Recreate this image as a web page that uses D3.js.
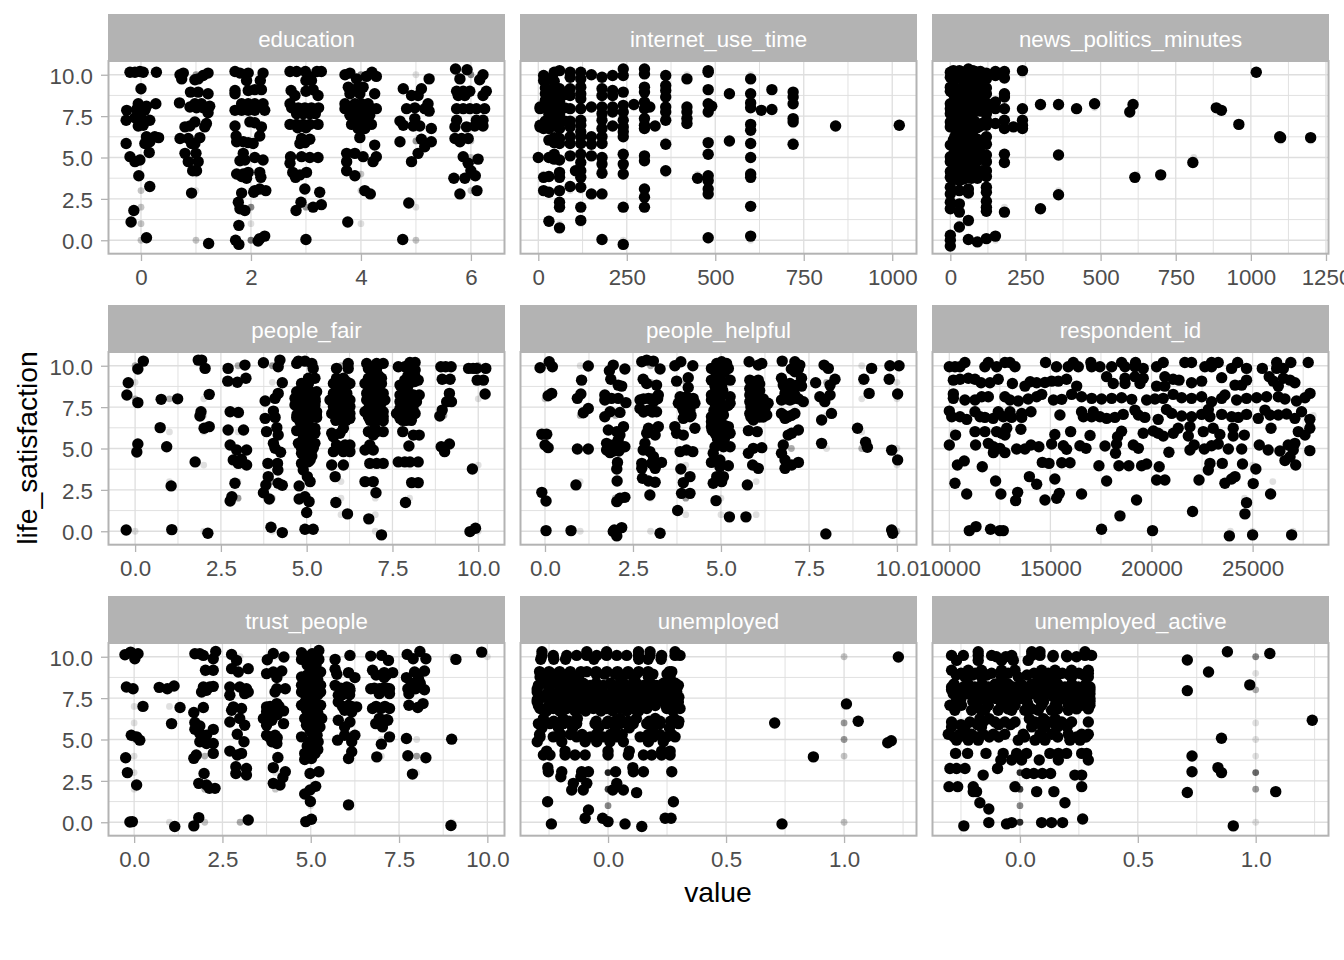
<!DOCTYPE html>
<html><head><meta charset="utf-8">
<script src="https://cdn.jsdelivr.net/npm/d3@7"></script>
<style>html,body{margin:0;padding:0;background:#fff}svg{display:block}text{font-family:"Liberation Sans",Arial,sans-serif}</style>
</head><body><div id="chart"></div>
<script>
// ---- data: [value, life_satisfaction] ----
const facetNames=["education","internet_use_time","news_politics_minutes","people_fair","people_helpful","respondent_id","trust_people","unemployed","unemployed_active"];
const yTicks=[0,2.5,5,7.5,10];
const yMinor=[1.25,3.75,6.25,8.75];

const educationJitter=[[-.2,10.15],[-.11,10.15],[-.02,10.2],[.04,10.15],[.28,10.15],[0,9.15],[-.05,8.25],[.1,8.1],[.27,8.25],[-.26,7.85],[-.08,7.9],[.07,7.85],[-.27,7.25],[-.11,7.4],[0,7.4],[.16,7.25],[-.05,6.9],[.04,6.95],[.1,6.25],[.25,6.25],[.32,6.2],[-.27,5.85],[.07,5.85],[.16,5.95],[.15,5.3],[-.2,5.05],[-.11,4.75],[-.02,4.85],[-.04,3.9],[.16,3.25],[-.13,1.8],[-.18,1.1],[.1,.15],
[.71,10],[.77,10.1],[.74,9.75],[1.22,10.1],[1.13,9.95],[1.04,9.75],[.98,9.7],[.9,8.95],[1.04,8.95],[1.22,8.85],[.7,8.3],[.98,8.25],[1.1,8.25],[.89,8.05],[1.01,8],[1.13,8],[1.25,8.1],[1.22,7.7],[.98,7.15],[.8,6.85],[.89,6.9],[1.16,6.85],[1.19,7.05],[.71,6.15],[.86,6.15],[1.07,6.2],[.92,5.85],[.98,5.85],[.8,5.25],[1,5.25],[.86,4.75],[1.04,4.75],[.94,4.2],[1.01,4.2],[.92,2.85],[1.23,-.2],
[1.71,10.2],[1.8,10.1],[1.95,10.1],[2.22,10.1],[1.92,9.65],[2.17,9.65],[1.71,9.05],[1.95,9.05],[2.07,9.1],[2.19,9.1],[1.71,8.85],[1.83,8.25],[1.95,8.25],[2.07,8.25],[2.22,8.25],[1.71,7.85],[1.83,7.85],[1.95,7.85],[2.07,7.85],[2.25,7.85],[1.98,7.15],[2.07,7.1],[1.71,6.9],[2.19,6.85],[2.16,6.3],[1.73,6.3],[1.74,5.95],[1.86,5.95],[1.95,5.9],[2.04,5.85],[1.86,5.25],[1.8,4.8],[1.89,4.85],[2.07,5],[2.22,4.85],[1.74,4],[1.86,4],[1.95,4.1],[2.16,4.1],[1.83,3.85],[1.92,3.75],[2.18,3.8],[2.07,3],[2.16,3.1],[2.27,3],[1.83,2.85],[2.05,2.9],[1.77,2.3],[1.8,1.9],[1.89,1.8],[1.78,.9],[1.72,0],[1.78,-.25],[2.13,-.05],[2.25,.25],[2.16,.1],
[2.71,10.2],[2.83,10.2],[2.99,10.2],[3.2,10.2],[3.28,10.2],[3.08,9.85],[3,9.65],[3.1,9.65],[3.13,9.1],[3,9],[2.73,9.05],[3.22,8.75],[2.8,8.75],[2.71,8.25],[2.74,8],[2.86,8],[2.98,8],[3.1,8],[3.23,8],[2.83,7.65],[2.95,7.65],[3.07,7.65],[3.17,7.65],[2.71,7],[2.83,7],[2.95,7],[3.07,7],[3.22,7],[2.85,6.8],[3,6.8],[2.92,6.15],[3.07,6.1],[2.89,5.85],[2.98,5.9],[2.72,5.05],[2.92,5.05],[3.07,5],[3.22,5],[2.71,4.65],[2.76,4.1],[3.01,4.1],[2.89,3.95],[2.81,3.8],[2.98,3.1],[3.25,2.9],[2.91,2.3],[3.28,2.15],[3.13,2],[2.82,1.8],[3,.05],
[3.71,10],[3.8,10.1],[4.2,10.15],[4.28,9.9],[3.92,9.75],[4.1,9.9],[3.77,9.25],[4.04,9.25],[3.92,9.15],[3.8,8.85],[3.98,8.85],[4.25,8.85],[3.71,8.25],[3.89,8.25],[4.01,8.25],[4.13,8.25],[3.71,7.95],[3.83,7.95],[3.95,7.95],[4.07,7.95],[4.19,7.95],[4.28,7.95],[3.8,7.55],[3.92,7.55],[4.04,7.55],[4.16,7.55],[3.83,7],[3.95,7],[4.07,7],[4.19,7],[3.95,6.75],[4.07,6.75],[3.98,6.2],[4.25,5.75],[3.74,5.25],[3.89,5.25],[4.04,5.05],[4.28,5.05],[3.74,4.75],[4.22,4.75],[3.74,4.2],[3.89,3.9],[4.07,3],[4.17,2.8],[3.76,1.1],
[5.24,9.75],[4.77,9.15],[5.1,9.15],[4.92,8.75],[5.04,8.75],[5.22,8.25],[5.16,7.95],[4.83,7.95],[4.98,8],[5.24,7.8],[4.98,7.35],[4.71,7.2],[4.77,6.95],[4.95,6.9],[5.07,6.9],[5.28,6.75],[4.71,5.95],[5.28,5.95],[5.1,6.1],[5.16,5.65],[5.04,5.25],[4.92,4.75],[4.87,2.25],[4.76,.05],
[5.72,10.35],[5.93,10.3],[5.8,9.75],[6.22,10],[6.16,9.7],[5.74,9],[5.86,9],[5.98,9],[6.28,9],[5.77,8.75],[5.89,8.75],[6.22,8.75],[5.74,7.95],[5.86,7.95],[5.98,7.95],[6.1,7.95],[6.25,7.95],[5.74,7.25],[6.22,7.25],[6.1,7.25],[5.71,6.85],[5.92,6.85],[6.07,6.9],[6.22,6.9],[5.71,6.15],[5.83,6.15],[5.95,6.15],[5.8,5.95],[5.86,5.05],[5.95,4.65],[6.13,4.9],[6,4.2],[6.08,3.9],[5.69,3.75],[5.89,3.75],[6.11,3],[5.8,2.8]];
const educationOriginal=[[0,9,1],[0,5,2],[0,4,1],[0,3,2],[0,2,2],[0,1,2],[0,0,2],[1,10,4],[1,4,1],[1,3,1],[1,0,2],[2,3,1],[2,2,5],[2,1,1],[2,0,6],[3,2,4],[4,10,5],[4,4,2],[4,3,2],[4,1,1],[5,10,1],[5,6,4],[5,2,1],[5,0,2],[6,10,5],[6,6,2],[6,5,2],[6,3,2]];

const internetColumns=[[0,[5]],[5,[8.05,7.95,6.95,6.85]],[15,[9.95,9.65,8,6.75,6.95,3.8,3]],[20,[9.2,8.85,8.45,7.2]],[30,[9.75,9.05,8.85,8.5,8,7.6,7.1,6.75,6.05,5,3.85,2.9,1.15]],[45,[10.15,9.6,9.25,8.8,8.3,7.95,7.3,6.9,6.2,5.9,5.2,4.9]],[60,[10.25,9.15,8.85,8.4,8,7.6,7.15,6.75,6.15,5.85,4.85,4.1,3.8,3,2.3,2,.75]],[75,[8.8,8,7.2]],[90,[10.15,9.85,9.15,8.75,7.95,7.2,6.85,6.25,5.85,5.1,3.25]],[105,[4.2]],[120,[10.15,9.75,9.25,8.85,8.55,7.95,7.25,6.95,6.55,6.25,5.85,5.2,4.7,4.2,3.8,3.2,2,1.2]],[150,[10,8.05,6.25,5.8,5.1,2.8]],[180,[9.85,9.15,8.75,8.05,7.65,7.25,6.75,6.25,5.85,5,4.6,4.05,2.8,.05]],[210,[9.95,9.05,8.75,8.05,7.75,6.9]],[240,[10.35,9.95,8.95,8.15,7.75,7.25,6.85,6.55,6.25,5.2,4.6,4,2,-.25]],[270,[8.2]],[300,[10.35,10.05,9.25,8.95,8.35,7.95,7.35,6.95,6.75,5.1,4.8,3.1,2.6,2]],[315,[8.05]],[330,[6.9]],[360,[9.95,9.35,9.05,8.65,8.05,7.75,7.25,5.8,4.2]],[420,[9.75,8.05,7.75,7.35,7.05]],[450,[3.75]],[480,[10.25,10.15,9.1,8.25,7.75,5.9,5.2,3.9,3.6,3.1,2.8,.15]],[490,[8.1]],[540,[8.85,6]],[600,[9.75,8.85,8.3,8,7,6.65,5.85,5,4,3.8,2.05,.25]],[630,[7.85]],[660,[9.1,7.9]],[720,[8.95,8.65,8.25,7.35,7.15,5.8]],[840,[6.9]],[1020,[6.95]]];
const internetOriginal=[[420,10,1],[600,10,1],[480,10,1],[720,7,1],[720,6,1],[360,6,1],[360,4,1],[450,4,1],[15,4,2],[30,4,2],[90,3,1],[120,3,1],[30,1,1],[60,1,1],[120,1,1],[240,0,1],[480,0,1],[600,0,1],[270,8,1]];

const newsColumns=[[0,[10.15,9.85,9.25,9,8.25,7.95,7.65,7.15,6.85,5.75,5.05,4.75,4.15,3.8,3.2,2.8,2.3,1.9,.3,0,-.35]],[10,[10.25,9.95,9.65,9.15,8.85,8.05,7.65,7.25,6.85,6.05,5.65,5.15,4.85,4.25,3.8]],[15,[10.2,9.75,9.2,8.6,8.25,7.75,7.35,6.95,6.25,5.95,5.25,4.75,4.05,3.7]],[20,[10.1,9.95,9,8.7,8.15,8,7.25,7,6.5,6,5,4.85,4.2,3.75]],[30,[10.25,9.85,9.15,8.85,8.35,8,7.65,7.15,6.85,6.25,5.85,5.1,4.7,4,3.6,3,2.2,1.7,.8]],[40,[10.15,9.7,9.1,8.8,8.25,7.85,7.5,7.05,6.75,6.3,5.65,5.2,4.85,4.1,3.75]],[45,[10.1,9.9,9.2,8.7,8,7.6,7.3,6.9,6.4,6,5.4,5,4.6,4,3.7]],[60,[10.35,10,9.7,9.2,8.85,8.2,8,7.65,7.2,6.9,6.35,5.85,5.15,4.85,4.15,3.8,3.1,2.85,1.2,.05]],[70,[10.1,9.8,9.05,8.7,8.1,7.75,7.15,6.6,6.1,5.5,5,4.6,4,3.75]],[75,[10.25,9.9,9.3,8.85,8.3,8,7.3,6.95,6.3,5.75,5.3,4.9,4.2,3.8]],[80,[10.2,9.7,9.1,8.6,8.05,7.8,7.2,5.5,5,4.55,4.05]],[90,[10.15,9.75,9.2,8.85,8.3,7.95,7,6.8,6.1,5.85,5.2,4.8,4.15,3.75,-.1]],[100,[10.2,9.9,9.1,8.7,8.15,7.8,6.9,5.3,4.9,4.05]],[105,[10.1,9.25,8.55,8,7.05,5.9,5.05,4.2]],[120,[10.1,9.75,9.2,8.85,8.3,8,7.65,7.25,6.95,6.25,5.8,5.15,4.75,4.2,3.85,3.2,2.9,2.35,2,1.75,.1]],[150,[10.2,9.95,8.35,7.95,7.05,.25]],[180,[10.2,9.8,8.85,8.65,7.95,7.25,6.75,5.2,4.7,1.7]],[210,[6.85]],[240,[10.25,7.95,7.25,6.95,6.75]],[300,[8.2,1.9]],[360,[8.2,5.15,2.75]],[420,[7.95]],[480,[8.25]],[597,[7.75]],[608,[8.2]],[614,[3.8]],[700,[3.95]],[807,[4.7]],[885,[8]],[902,[7.85]],[960,[7.0]],[1018,[10.15]],[1096,[6.25]],[1099,[6.2]],[1199,[6.2]]];
const newsOriginal=[[300,8,1],[360,8,1],[480,8,1],[600,8,1],[1100,6,1],[1200,6,1],[810,5,1],[620,4,1],[360,3,1],[180,2,1],[210,7,1],[180,9,1],[240,10,1],[150,10,1],[60,1,1],[30,1,1],[150,0,1]];

const fairJitter=[[.24,10.28],[.08,9.8],[-.2,8.97],[-.24,8.23],[.08,7.77],[.08,5.27],[.05,4.79],[-.26,.08],[.76,7.97],[1.24,8],[.73,6.26],[.92,5.11],[1.05,2.74],[1.07,.1],[1.84,10.34],[1.94,10.34],[2.04,9.84],[2.16,8.27],[1.92,7.22],[1.89,6.96],[2.01,6.22],[2.16,6.32],[1.75,4.19],[2.12,-.12],[2.71,9.84],[3.2,10.04],[3.23,9.24],[2.7,9.07],[2.98,9],[2.77,7.22],[3.01,7.18],[2.71,6.12],[3.16,6.12],[2.77,5.21],[2.96,4.91],[3.25,4.91],[2.86,4.31],[3.01,4.1],[3.25,4],[3.1,4.35],[2.91,2.9],[2.82,2.09],[2.77,1.83],[3.74,10.18],[4.22,10.34],[4.17,9.94],[4.29,8.97],[4.17,8.33],[4.08,8.03],[3.79,7.87],[4.03,7.26],[3.79,6.82],[4.08,6.88],[3.83,6.02],[4.13,6.26],[4.17,5.81],[4.03,5.31],[4.08,5.01],[4.24,4.77],[3.87,4.1],[4.15,4.1],[4.16,3.7],[3.88,3.3],[3.81,2.8],[4.17,2.9],[4.29,2.78],[3.74,2.33],[3.91,1.95],[3.96,.24],[4.29,-.08]];
const fairRows=[[10.28,[4.76,4.95]],[10.14,[4.71,5.15]],[9.84,[5.19]],[9.24,[5.24,5.05]],[8.93,[4.85,5.05]],[8.43,[4.71,4.9,5.1,5.29]],[8.03,[4.66,4.85,5.05,5.24]],[7.63,[4.66,4.85,5.05,5.24]],[7.22,[4.9,5.1,5.29]],[6.88,[4.71,4.9,5.1,5.29]],[6.62,[5,4.81]],[6.08,[4.71,5.2,4.95]],[6.22,[5.24]],[5.92,[5.24]],[5.31,[4.76,4.95,5.24]],[5.01,[4.85,5.05,5.19]],[4.71,[4.85]],[4.31,[5.1,4.95]],[4.1,[4.85]],[3.7,[4.9]],[3.3,[5.02]],[3,[5.1]],[2.74,[4.78]],[2.09,[4.95]],[1.95,[4.78]],[1.79,[5.07]],[1.13,[5]],[.12,[4.95,5.19]],
[10.14,[6.21]],[9.84,[5.87,6.21]],[9.24,[5.87,6.07]],[8.93,[5.78,6.26,5.97]],[8.33,[5.78,5.97,6.17]],[7.93,[5.68,5.87,6.07,6.26]],[7.53,[5.78,5.97,6.26]],[7.12,[5.73,5.92,6.12,6.26]],[6.82,[6.26,5.97]],[6.22,[6.07]],[5.92,[5.73,5.97]],[5.71,[5.78]],[5.21,[5.87,6.12,6.26]],[4.81,[5.78,6.07,6.26]],[4,[5.73,6.07]],[3.3,[5.83]],[1.74,[5.85]],[1.05,[6.19]],
[10.14,[6.75,7.04,7.23]],[9.84,[6.8,7.04]],[9.24,[6.8,6.99,7.18]],[8.93,[6.7,6.89,7.18]],[8.33,[6.75,6.99,7.23]],[7.93,[6.75,6.94,7.14,7.28]],[7.53,[6.84,7.09]],[7.22,[6.7,6.89,7.09,7.23]],[6.92,[6.8,7.04,7.23]],[6.68,[7.23]],[6.22,[6.99]],[6.02,[6.8,7.04,7.23]],[5.81,[6.94]],[5.21,[6.84]],[4.91,[6.7,6.94]],[4.1,[6.84,7.04,7.23]],[3,[6.7,6.94]],[2.33,[7.02]],[.75,[6.81]],[-.22,[7.18]],
[10.2,[8.01,8.16]],[9.94,[7.67,7.86,8.06]],[9.74,[8.16]],[9.13,[7.86,8.06,8.25]],[8.83,[7.72,7.96]],[8.23,[7.72,7.91,8.11,8.28]],[7.83,[7.72,7.96,8.2]],[7.42,[7.72,8.01]],[7.12,[7.62,7.86,8.16]],[6.82,[7.72,7.96]],[6.02,[7.8]],[5.81,[8.11,8.28]],[5.15,[7.98]],[4.19,[7.67,7.86,8.01,8.25]],[2.94,[8.06,8.25]],[1.74,[7.88]],
[9.94,[8.91,9.05,9.21]],[9.18,[8.95,9.18]],[7.83,[9.08,9.22]],[8.33,[9.16]],[7.32,[8.95]],[6.96,[8.88]],[5.11,[8.92]],[5.27,[9.16]],[4.81,[9.02]],[9.84,[9.72,9.95,9.85,10.22]],[9.13,[9.97,10.15]],[8.29,[10.2]],[3.76,[9.83]],[-.02,[9.76]],[.18,[9.92]],
[8.3,[4.75,4.95,5.15,5.95,6.1,6.85,7.1,7.8,8]],[7.85,[4.7,4.95,5.15,5.25,5.85,6.05,6.2,6.85,7.05,7.2,7.8,8.05]],[7.4,[4.85,5.05,5.2,5.85,6.1,6.8,7,7.15,7.8,7.95,8.1]],[7.05,[4.72,4.95,5.15,5.28,6.05,6.95,7.15,7.75,7.95,8.1]],[6.7,[4.85,5.05,5.85,6.05,6.15,6.85,7.05,7.8,7.9,8.05]],[6.45,[4.85,5.05]],[5.6,[4.9,5.1]],[5,[4.95,5.9,6.2,6.85]],[4.55,[5,5.15]],[4.2,[4.92,5.05]],[8.8,[5.85,6.1,6.8,7.05,7.95]],[9.05,[5.95,6.15,7.1,8.15]],[9.4,[6.9,7.1,7.95,8.15]],[10,[7.95,8.1]]];
const fairOriginal=[[0,10,3],[0,9,1],[0,8,3],[0,5,1],[0,0,1],[1,8,3],[1,6,1],[1,3,1],[1,0,1],[2,8,1],[2,7,1],[2,6,1],[2,4,1],[2,0,1],[3,10,3],[3,7,1],[3,6,1],[3,5,1],[3,3,1],[3,2,4],[4,10,4],[4,9,1],[4,3,4],[4,2,2],[4,0,1],[5,3,1],[6,10,3],[6,3,1],[6,2,1],[6,1,1],[7,5,1],[7,3,1],[7,2,1],[7,1,1],[7,0,1],[8,3,2],[8,2,1],[8,4,1],[9,10,3],[9,7,3],[10,10,4],[10,8,1],[10,4,1],[10,0,1]];

const helpfulJitter=[[-.14,9.88],[.12,10.24],[.21,9.94],[.19,8.33],[.09,8.19],[-.09,5.86],[.05,5.86],[0,5.21],[.09,5.05],[-.09,2.35],[.03,1.83],[.03,.04],[1.23,9.98],[1.04,9.13],[1.02,8.29],[.92,8.03],[1.23,7.42],[1.09,7.16],[.92,4.97],[1.23,4.97],[.88,2.8],[.74,.04],
[1.94,10.04],[1.83,9.7],[2.27,9.8],[1.87,9.18],[2.18,8.77],[2.08,8.83],[1.7,8.23],[1.7,7.93],[1.89,8.03],[2.08,8.03],[2.3,7.77],[1.85,7.22],[2.13,7.18],[1.7,6.92],[1.8,6.12],[2.23,6.32],[2.04,6.02],[2.13,5.81],[2.08,5.51],[1.75,5.31],[1.75,4.91],[1.94,5.21],[1.94,4.91],[2.13,5.11],[2.27,5.11],[1.85,4.75],[2.06,4.16],[2.04,3.76],[2.05,3.04],[2.27,2.05],[2.13,1.99],[2.04,1.79],[1.97,.08],[2.18,.22],[2.04,-.28],[1.94,-.02],
[2.75,10.24],[2.89,10.34],[3.08,10.28],[3.27,9.8],[2.79,9.18],[2.89,8.93],[3.17,8.83],[2.7,7.93],[2.94,8.03],[3.22,8.23],[3.08,7.83],[2.7,7.42],[2.94,7.32],[3.17,7.22],[2.94,6.22],[3.22,6.32],[2.89,5.92],[3.13,5.81],[2.84,5.31],[2.79,4.91],[2.98,4.81],[3.08,4.51],[2.75,4.1],[2.75,3.8],[3.03,4.1],[3.31,4.16],[3.13,3.8],[2.77,3.2],[2.94,3.04],[3.13,2.96],[2.98,2.19],[3.27,-.12],
[3.86,10.24],[3.69,10],[4.2,10],[4.07,9.28],[3.74,9.07],[4.07,8.69],[3.84,8.13],[4.02,8.13],[4.21,8.03],[3.79,7.73],[4.02,7.73],[4.26,7.73],[3.93,7.32],[4.12,7.32],[3.93,6.82],[4.12,6.92],[3.69,6.32],[4.26,6.22],[3.74,5.92],[3.93,5.81],[3.84,4.81],[4.02,4.91],[4.2,4.81],[3.86,3.76],[4.12,3.3],[3.93,2.94],[3.88,2.29],[4.12,2.29],[3.77,1.25],
[5.02,10.24],[4.88,10.14],[5.16,10.14],[4.73,9.84],[4.97,9.84],[5.21,9.84],[4.73,9.13],[4.97,9.13],[5.26,9.13],[4.83,8.77],[5.02,8.77],[4.73,8.23],[4.97,8.23],[5.26,8.13],[4.73,7.93],[4.97,7.93],[5.26,7.73],[4.88,7.53],[5.07,7.42],[4.88,7.12],[5.07,7.02],[4.73,6.92],[4.73,6.62],[4.97,6.72],[4.73,6.32],[4.97,6.32],[5.21,6.32],[4.83,5.92],[5.07,5.71],[5.26,5.92],[4.83,5.11],[5.07,5.11],[5.26,5.11],[4.78,4.71],[4.73,4.16],[4.97,4.31],[5.21,3.96],[4.97,3.9],[5.07,3.3],[4.88,3.3],[4.78,2.9],[5.02,3],[4.86,1.85],[5.24,.87],[5.71,.87],
[5.8,10.24],[6.16,10.14],[6.06,10.04],[5.82,9.13],[6.06,9.13],[5.82,8.63],[6.06,8.73],[5.82,8.23],[6.06,8.23],[5.82,7.83],[6.06,7.83],[6.34,7.73],[6.25,7.42],[5.82,7.12],[6.06,7.12],[6.3,7.02],[5.92,6.72],[5.78,6.08],[6.03,6.02],[6.16,5.05],[5.92,5.01],[5.78,4.71],[5.9,4],[6.06,3.8],[5.75,2.8],
[6.74,10.28],[7.1,10.24],[7.24,10.04],[7.1,9.64],[7.29,9.24],[6.72,9.24],[7.15,8.83],[6.96,8.93],[6.77,8.83],[7.29,8.77],[6.82,8.33],[7.1,8.23],[6.72,7.93],[6.96,7.93],[7.34,7.83],[6.72,7.12],[6.91,6.92],[7.1,7.12],[6.82,6.82],[7.2,6.12],[7.01,5.92],[6.91,5.81],[6.77,5.21],[6.72,4.71],[6.82,4.31],[7.01,4],[7.2,4.16],[6.82,3.8],
[7.93,10.04],[8.05,9.84],[7.69,8.97],[8.24,9.18],[8.1,8.83],[7.81,8.13],[8.1,8.23],[7.95,7.83],[8.14,7.12],[7.86,6.72],[7.86,5.31],[7.98,-.16],[9.28,9.84],[9.06,9.18],[9.21,8.33],[8.88,6.22],[9.11,5.38],[9.16,5.07],[9.8,10],[10.06,10],[9.78,9.18],[10.02,8.29],[9.85,4.9],[10.02,4.31],[9.85,.08],[9.88,-.12]];
const helpfulCrowded=[[4.85,9.6],[5.1,9.6],[4.85,8.5],[5.05,8.5],[4.85,7.6],[5.05,7.6],[5.2,7.6],[4.8,7.3],[5,7.3],[4.85,6.4],[5.1,6.4],[4.75,6.1],[5.05,6.1],[5.15,6.1],[4.9,5.6],[5.1,5.6],[5.9,8.9],[6.1,8.9],[5.9,8.5],[6.1,8.5],[5.95,8],[6.2,8],[5.85,7.5],[6.05,7.5],[6.15,7.5],[5.85,6.9],[6.1,6.9],[6.2,6.9],[7,9.8],[7.2,9.8],[6.85,8.5],[7.05,8.5],[6.85,8],[7.05,8],[7.2,8],[6.8,7],[7,7],[3.85,8],[4.1,8],[3.9,7.5],[4.1,7.5],[4,7],[4.15,7],[2.8,8],[3.05,8],[3.2,8],[2.8,7.2],[3.05,7.2],[1.85,5.1],[2.05,5.1],[2.2,5.1],[1.95,4.85],[2.1,4.85]];
const helpfulOriginal=[[0,10,2],[0,8,2],[0,6,2],[1,10,1],[1,7,3],[1,3,1],[1,0,1],[2,7,3],[2,4,1],[2,3,1],[2,2,3],[3,10,3],[3,9,3],[3,2,1],[3,0,1],[4,9,3],[4,5,3],[4,4,1],[4,2,4],[4,1,1],[5,4,3],[5,2,1],[5,1,1],[6,10,2],[6,4,2],[6,3,1],[6,1,1],[7,9,5],[7,5,3],[8,5,1],[8,9,3],[8,7,1],[9,10,1],[9,9,1],[9,8,1],[9,6,1],[9,5,3],[10,9,1],[10,8,1],[10,5,1],[10,4,1],[10,0,2]];

const respondentTop=[[9.94,[10000,10280,10530,11760,12340,13250,15300,15880,16380,17040,17450,18030,18690,19180,20250,22640,22970]],[10.2,[10770,11930,12750,13000,14760,16130,17000,18520,19210,20580,21650,21980,22970,23300,24260,26190,26890,27750]],[9.84,[26190,26520,24700,23960,25480,19590]]];
const respondentPairs=[[10200,9.13],[10530,9.18],[10940,9.24],[11270,9.18],[11570,8.97],[12010,8.97],[12420,9.18],[13120,8.93],[13740,8.77],[14000,9.03],[14320,8.97],[14730,8.99],[15060,9.07],[15390,9.07],[15800,9.18],[16300,8.77],[17780,9.34],[18110,8.93],[18690,9.24],[18690,8.93],[19180,9.34],[19430,8.93],[19590,9.24],[20250,8.77],[20660,9.34],[20660,8.77],[21070,9.18],[21360,9.13],[21980,8.97],[22480,9.07],[23470,9.28],[24130,8.83],[24700,9.13],[24460,8.83],[25820,9.34],[26020,9.07],[26270,8.77],[26520,9.24],[26850,9.13],[27090,8.97],
[10200,8.03],[10200,8.3],[10770,7.93],[11270,7.93],[11600,8.13],[11930,8.13],[12750,8.13],[13000,7.93],[13410,7.87],[13900,7.99],[14320,8.13],[14570,8.27],[15150,7.93],[15560,7.97],[16050,8.27],[16540,8.13],[17040,8.03],[17530,7.99],[18030,8.03],[18520,8.07],[19020,7.97],[19760,7.93],[20170,7.99],[20580,8.03],[21070,8.27],[21490,8.07],[21980,8.03],[22480,8.13],[22970,7.83],[23470,8.03],[23630,8.23],[24210,7.93],[24700,8.03],[25200,8.07],[25690,8.13],[26270,8.13],[26600,7.99],[27170,7.87],[27590,8.07],[27840,8.33],
[10000,7.26],[10120,6.92],[10530,6.92],[10860,6.76],[11270,7.22],[11520,6.92],[11760,6.88],[12170,6.82],[12420,7.22],[12670,6.92],[13000,7.22],[13080,6.88],[13580,7.12],[13580,6.88],[14040,7.22],[15470,7.02],[16540,7.22],[16630,6.92],[17040,6.92],[17120,7.22],[17450,6.92],[17780,6.82],[18190,6.88],[18600,7.06],[19180,7.32],[19350,7.02],[19670,6.88],[20330,6.76],[20740,7.36],[21000,7.12],[21490,6.96],[21980,6.92],[22480,7.06],[22810,7.36],[22890,6.92],[23470,7.06],[23960,6.92],[24290,6.88],[24700,7.06],[25280,6.82],[25610,7.32],[25860,7.02],[26270,7.02],[26680,7.08],[27090,6.82],[27420,7.22],[27830,6.76],
[10310,5.81],[11270,6.02],[11760,6.02],[12340,6.02],[12840,6.22],[12750,5.81],[12590,5.92],[13540,6.16],[15220,5.85],[16000,6.02],[16960,5.79],[18520,6.04],[18320,5.71],[19590,5.92],[20090,6.06],[20330,5.92],[20580,5.75],[21080,5.92],[21320,6.22],[21900,6.32],[21820,5.75],[22560,6.02],[23050,6.22],[23380,5.85],[24040,6.22],[24040,5.75],[24590,5.81],[25910,6.22],[27260,6.02],[27590,5.81],[27830,6.22],
[10000,5.21],[11300,5.21],[11930,5.31],[12180,5.11],[12180,4.75],[12500,5.01],[12750,4.75],[13330,4.97],[13740,4.97],[14040,5.21],[14430,5.11],[15060,5.27],[15640,5.17],[15800,4.95],[16460,5.17],[16760,5.01],[17700,5.15],[18270,5.27],[18220,4.71],[19100,5.21],[19350,5.01],[20860,4.77],[21900,4.91],[22110,5.21],[22610,4.97],[22970,5.17],[23300,5.27],[23800,4.97],[24460,4.97],[25330,5.21],[25770,4.91],[26350,4.85],[26760,5.21],[27090,5.31],[27010,4.91],[27830,4.87],
[10400,4],[10740,4.25],[11630,3.9],[14600,4.16],[14930,4.1],[15560,4.14],[15970,4.14],[17400,3.96],[18390,3.96],[18880,3.96],[19510,3.96],[19760,4.06],[20380,3.9],[22890,4.1],[22810,3.7],[23500,4.1],[24500,4.06],[25160,3.76],[26600,4.27],[27130,4],[26850,4.5],
[10280,2.9],[12290,3.04],[13960,3.3],[14320,2.84],[15220,3.16],[17780,3.04],[20250,3.1],[20660,3.1],[22350,3.1],[23630,2.9],[23960,3.16],[24130,3.3],[25030,2.88],
[10860,2.25],[12550,2.25],[13380,2.35],[13280,1.85],[14730,1.89],[15310,1.99],[15440,2.29],[16540,2.25],[19260,1.89],[25890,2.25],
[24700,1.73],[24620,1.05],[22030,1.19],[18440,.93],[10990,.04],[11320,.28],[12040,.12],[12500,.04],[12670,.04],[17530,.12],[20050,.04],[23850,-.28],[25000,-.22],[26930,-.22]];
const respondentOriginal=[[23900,0,1],[25000,0,1],[27000,0,1],[26000,3,1],[24600,2,1],[25000,4,1],[28000,7,1],[20100,8,1],[15000,4,1],[10200,6,1]];

const trustJitter=[[-.26,10.12],[-.1,10.28],[.11,10.18],[.02,9.88],[-.22,8.17],[-.03,8.07],[.25,7],[-.24,3.9],[-.19,3],[.07,2.25],[-.08,5.26],[.07,5.16],[.16,4.96],[-.12,.02],[-.05,.04],[.71,8.15],[.94,8.07],[1.13,8.23],[1.3,6.93],[1.06,5.96],[1.15,-.26],[1.72,10.18],[1.86,10.18],[1.96,10.08],[2.24,9.88],[2.31,10.32],[2.02,9.18],[2.24,9.18],[1.96,8.17],[2.14,8.17],[2.24,8.21],[1.91,7.87],[2.05,7.97],[1.96,6.93],[1.69,6.63],[1.72,6.03],[1.86,5.82],[1.72,5.62],[2.24,5.61],[1.86,5.36],[2.05,5.26],[1.86,4.86],[2.05,4.76],[2.24,4.76],[1.76,4.06],[1.69,3.86],[2.24,4.16],[1.98,2.95],[1.83,2.35],[2.05,2.25],[2.29,2.05],[2.13,2.05],[1.83,.28],[1.69,-.22],
[2.76,10.14],[2.9,9.78],[2.76,9.28],[2.95,9.08],[3.23,9.28],[2.71,8.17],[2.71,7.67],[2.99,8.17],[3.18,8.07],[3.23,7.87],[3.13,7.77],[2.81,6.97],[3.04,6.87],[2.76,6.77],[2.99,6.27],[2.71,6.06],[3.13,5.86],[2.92,5.32],[3.11,4.86],[2.71,4.3],[3.04,4.16],[2.92,4.06],[2.88,3.35],[3.18,3.25],[2.88,2.95],[3.18,2.85],[3.23,.14],
[3.94,10.2],[4.24,9.98],[3.77,9.82],[3.75,8.98],[3.94,9.08],[4.18,9.14],[4.04,8.74],[4.04,8.07],[4.28,8.07],[3.99,7.87],[3.75,6.97],[4.04,7.17],[4.23,6.73],[3.75,6.67],[3.94,6.77],[3.66,6.27],[3.9,6.16],[3.75,5.86],[4.23,5.96],[3.75,5.26],[3.99,5.26],[3.9,4.86],[4.04,4.76],[4.07,3.91],[3.94,3.3],[4.28,3.05],[4.21,2.7],[3.94,2.35],[4.13,2.25],
[4.74,10.24],[5.04,10.18],[5.23,10.38],[4.74,9.84],[4.98,9.84],[5.23,9.84],[4.74,8.78],[5.04,9.08],[5.28,9.08],[4.83,8.68],[5.07,8.68],[4.74,8.27],[4.98,8.37],[5.28,8.27],[4.74,7.87],[4.98,7.87],[5.28,7.87],[4.98,7.47],[4.74,7.07],[4.98,7.07],[5.28,7.07],[4.88,6.77],[5.12,6.77],[4.83,6.27],[5.12,6.27],[5.31,6.27],[4.88,5.86],[5.12,5.86],[5.26,5.76],[4.98,5.56],[4.74,5.16],[5.18,5.26],[4.98,4.86],[5.21,4.86],[4.98,4.56],[4.83,4.16],[5.12,4.16],[4.83,3.79],[5.02,3.85],[4.98,2.95],[5.23,3.05],[5.14,2.17],[4.98,1.95],[4.83,1.71],[4.99,1.25],[4.86,.04],[5.02,.18],
[5.69,9.84],[6.11,10.08],[5.69,9.24],[5.74,8.94],[6.07,9.04],[6.25,8.74],[5.69,8.27],[6.02,8.17],[5.78,7.67],[6.11,7.97],[5.78,7.27],[6.07,7.07],[6.3,6.97],[5.96,6.77],[6.16,6.67],[5.78,6.16],[6.11,6.06],[5.96,5.76],[5.76,4.96],[5.96,5.26],[6.25,5.26],[6.16,4.86],[6.16,4.26],[6.07,3.85],[6.07,1.05],
[6.7,10.04],[7.01,10.08],[7.2,9.78],[6.75,9.18],[7.08,9.04],[7.32,9.04],[7.08,8.74],[6.7,8.07],[6.94,8.07],[7.23,8.07],[6.94,7.77],[7.23,7.77],[6.75,6.87],[6.99,6.87],[7.23,6.87],[6.94,6.27],[7.18,6.16],[6.84,5.96],[7.03,5.76],[7.23,5.16],[7,4.72],[6.87,3.95],
[7.73,10.14],[7.9,9.88],[8.09,10.32],[8.26,9.88],[7.94,9.08],[8.22,9.14],[7.71,8.74],[8.05,8.68],[7.75,8.07],[7.97,8.07],[8.22,8.01],[7.78,7.77],[7.78,7.07],[8.18,7.17],[8.03,6.93],[7.71,5.06],[7.75,4.02],[8.26,3.9],[7.88,2.91],[9.11,9.84],[8.99,5.02],[8.97,-.2],[9.84,10.28]];
const trustCrowded=[[10,[4.85,5.1]],[9.5,[4.9,5.15]],[8.9,[4.9,5.1,6.85,7.15]],[8.6,[4.85,4.95,5.2]],[8.1,[4.85,5.1,5.85,6.1,6.8,7.05,7.15]],[7.7,[4.85,5.1,5.2,5.9,6.1]],[7.3,[4.85,5.1]],[7,[4.85,5.15,3.85,4.1,5.9,6.15,6.85,7.1]],[6.6,[5,5.2]],[6.5,[3.9,4.05]],[6.2,[5,5.2,7,7.15]],[5.6,[5.12]],[5.3,[5.05,5.15]],[5.1,[3.85,4.05]],[4.6,[5.1,4.9]],[4.4,[5,5.2]],[8.4,[7.85,8.1]]];
const trustOriginal=[[0,7,1],[0,6,1],[0,5,1],[0,4,1],[0,3,1],[0,2,1],[1,8,1],[1,7,1],[1,6,1],[1,0,1],[2,10,1],[2,9,1],[2,7,1],[2,4,3],[2,2,3],[2,0,2],[3,10,1],[3,0,3],[4,10,1],[4,4,1],[4,3,1],[4,2,2],[5,1,1],[7,5,1],[7,4,1],[8,8,1],[8,5,1],[8,4,4],[8,3,1],[9,10,1],[9,0,1],[10,10,1]];

const unemployedRows=[[10.08,[-.28,-.232,-.175,-.133,-.09,-.048,-.006,.037,.079,.129,.178,.227,.284,.305]],[10.3,[-.28,-.09,-.006,.129,.178,.284]],[9.85,[-.285,-.23,-.18,-.06,.13,.17,.225]],
[9.1,[-.29,-.25,-.205,-.16,-.115,-.09,-.05,-.005,.04,.085,.13,.17,.26,.27]],[8.95,[-.285,-.23,-.17,-.12,-.05,-.015,.03,.075,.12,.19,.25]],[8.78,[-.288,-.246,-.189,-.133,.051,.107,.171,.263]],
[8.27,[-.295,-.246,-.189,-.133,-.076,-.02,.037,.093,.15,.206,.263,.298]],[8.4,[-.27,-.215,-.16,-.105,-.05,.01,.065,.12,.18,.235,.285]],[8.05,[-.3,-.25,-.205,-.16,-.115,-.07,-.025,.02,.065,.11,.155,.2,.245,.29]],[7.87,[-.3,-.253,-.203,-.147,-.09,-.034,.023,.079,.136,.192,.249,.291]],[7.7,[-.295,-.225,-.17,-.12,-.06,-.01,.05,.11,.165,.225,.285]],[7.55,[-.275,-.23,-.185,-.14,-.095,-.05,-.005,.04,.085,.13,.175,.22,.265,.3]],[7.4,[-.3,-.215,-.16,-.105,-.045,.015,.065,.12,.18,.235,.29]],
[7.27,[-.3,-.246,-.189,-.133,-.076,-.02,.037,.093,.15,.206,.263,.298]],[7.05,[-.295,-.25,-.205,-.16,-.115,-.07,-.025,.02,.065,.11,.155,.2,.245,.29]],[6.87,[-.288,-.232,-.175,-.112,-.062,-.006,.051,.107,.164,.249,.305]],[6.72,[-.26,-.205,-.14,-.095,-.03,.02,.08,.13,.275]],
[5.96,[-.295,-.246,-.189,-.133,-.055,-.006,.051,.107,.164,.22,.298]],[6.27,[-.274,-.19,-.13,.05,.12,.2,.28]],[6.1,[-.275,-.23,-.165,-.05,0,.03,.085,.175,.22,.265,.3]],[5.7,[-.28,-.21,-.15,-.04,.03,.09,.19,.26]],
[5.16,[-.288,-.232,-.133,-.076,-.02,.037,.136,.192,.249,.284]],[5.3,[-.29,-.2,-.16,-.11,-.05,.01,.06,.17,.22,.27]],[4.86,[-.3,-.196,-.097,-.048,.008,.065,.171,.234]],
[4.06,[-.274,-.246,-.182,-.14,-.097,0,.086,.15,.185,.227,.263]],[4.3,[-.26,-.182,0,.09,.227,.263]],[3.05,[-.253,-.196,-.112,-.083,.032,.107,.15,.27]],[3.3,[-.255,.105]],[2.75,[-.2,-.115]],[2.35,[-.147,-.09,.037]],[1.95,[-.154,-.105,.065,.02]],[1.79,[.121]],[1.24,[-.256,.277]],[.74,[-.083]],[.24,[-.097,-.023,.242,.267]],[.04,[0]],[-.1,[-.24,.072]],[-.26,[.143]]];
const unemployedRight=[[1.23,9.98],[1.01,7.15],[1.06,6.1],[.706,6],[1.2,4.92],[1.185,4.8],[.87,3.95],[.737,-.1]];
const unemployedOriginal=[[1,10,2],[1,7,1],[1,6,4],[1,5,4],[1,4,2],[1,0,2],[0,3,16],[0,2,12],[0,1,5]];

const activeRows=[[10.08,[-.29,-.24,-.177,-.12,-.035,.05,.085,.141,.198,.276,.304]],[9.78,[-.269,-.177,-.078,-.028,.035]],[10.3,[-.177,.05,.085,.276]],[10,[-.1,-.06,.14,.2,.24]],
[9.18,[-.29,-.219,-.163,-.078,-.021,.092,.149,.219,.29]],[9,[-.25,-.19,-.12,-.05,.06,.12,.18,.25,.29]],[8.9,[-.27,-.2,-.14,-.07,.03,.1,.16,.21,.27]],[8.78,[-.233,-.163,-.078,-.007,.078,.134,.219,.29]],
[8.35,[-.28,-.22,-.16,-.105,-.05,.005,.05,.105,.16,.22,.28]],[8.17,[-.29,-.24,-.191,-.134,-.078,-.028,.021,.078,.134,.191,.248,.297]],[8,[-.29,-.26,-.215,-.16,-.105,-.05,0,.05,.105,.16,.215,.27,.297]],[7.77,[-.283,-.226,-.17,-.113,-.057,0,.057,.113,.17,.226,.297]],[7.6,[-.26,-.2,-.14,-.085,-.03,.03,.085,.14,.2,.26]],[7.47,[-.25,-.17,-.1,0,.08,.17,.297]],[7.3,[-.27,-.2,-.14,-.06,-.02,.03,.1,.16,.22,.26,.297]],
[7.07,[-.297,-.248,-.191,-.134,-.078,-.021,.035,.092,.149,.205,.262,.297]],[6.77,[-.276,-.205,-.149,-.092,-.035,.021,.078,.134,.205]],[6.85,[.24,.29,-.17,-.05,.05,.16]],
[6.06,[-.29,-.212,-.156,-.106,-.064,-.021,.064,.12,.177,.219,.29]],[5.9,[-.25,-.18,-.09,-.04,.09,.15,.2]],[5.76,[-.29,-.233,-.163,.05,.106,.16,.2]],[6.25,[-.17,-.13,.04,.1,.15]],
[5.32,[-.304,-.255,-.205,-.156,-.113,-.064,.014,.085,.134,.205,.262,.29]],[5.15,[-.28,-.23,-.18,-.13,-.09,.02,.1,.16,.24,.28]],[4.96,[-.269,-.219,-.177,-.007,.064,.106,.212,.255]],
[4.16,[-.273,-.222,-.144,-.071,-.014,.028,.127,.163,.198,.262,.283]],[3.76,[-.081,-.035,.007,.082,.163,.29]],[3.25,[-.297,-.269,-.233,-.095]],[2.95,[.028,.059,.095,.13]],[2.85,[-.156,.233,.262]],[2.15,[-.301,-.264,-.198,-.021,.262]],[1.85,[-.198,-.184,.071,.144]],[1.18,[-.17,.191]],[.8,[-.132]],[-.02,[-.132,-.035,.092,.134,.181]],[-.1,[-.057]],[.2,[.266]],[-.22,[-.238]]];
const activeRight=[[.88,10.3],[1.06,10.2],[.71,9.8],[.8,9.08],[.975,8.3],[.71,7.95],[1.24,6.16],[.855,5.08],[.73,4],[.84,3.3],[.855,3],[.73,3.05],[1.085,1.85],[.71,1.8],[.905,-.22]];
const activeOriginal=[[1,10,5],[1,9,1],[1,8,3],[1,6,1],[1,5,1],[1,4,1],[1,3,7],[1,2,4],[1,0,1],[0,3,14],[0,2,12],[0,1,5],[0,0,14]];

// tick marks per facet
const educationTicks=[0,2,4,6], educationMinor=[1,3,5];
const internetTicks=[0,250,500,750,1000], internetMinor=[125,375,625,875];
const newsTicks=[0,250,500,750,1000,1250], newsMinor=[125,375,625,875,1125];
const scoreTicks=[0,2.5,5,7.5,10], scoreMinor=[1.25,3.75,6.25,8.75];
const respondentTicks=[10000,15000,20000,25000], respondentMinor=[12500,17500,22500,27500];
const binaryTicks=[0,.5,1], binaryMinor=[-.25,.25,.75,1.25];

// ---- helpers ----
const fromRows=rows=>rows.flatMap(([y,xs])=>xs.map(x=>[x,y]));
const fromColumns=cols=>cols.flatMap(([x,ys])=>ys.map(y=>[x,y]));
const facets=[
 {domain:[-.6,6.62],ticks:educationTicks,minor:educationMinor,fmt:d3.format("d"),pts:educationJitter,orig:educationOriginal},
 {domain:[-51.7,1070],ticks:internetTicks,minor:internetMinor,fmt:d3.format("d"),pts:fromColumns(internetColumns),orig:internetOriginal},
 {domain:[-61,1260],ticks:newsTicks,minor:newsMinor,fmt:d3.format("d"),pts:fromColumns(newsColumns),orig:newsOriginal},
 {domain:[-.79,10.78],ticks:scoreTicks,minor:scoreMinor,fmt:d3.format(".1f"),pts:fairJitter.concat(fromRows(fairRows)),orig:fairOriginal},
 {domain:[-.71,10.57],ticks:scoreTicks,minor:scoreMinor,fmt:d3.format(".1f"),pts:helpfulJitter.concat(helpfulCrowded),orig:helpfulOriginal},
 {domain:[9144,28778],ticks:respondentTicks,minor:respondentMinor,fmt:d3.format("d"),pts:fromRows(respondentTop).concat(respondentPairs),orig:respondentOriginal},
 {domain:[-.74,10.5],ticks:scoreTicks,minor:scoreMinor,fmt:d3.format(".1f"),pts:trustJitter.concat(fromRows(trustCrowded)),orig:trustOriginal},
 {domain:[-.373,1.309],ticks:binaryTicks,minor:binaryMinor,fmt:d3.format(".1f"),pts:fromRows(unemployedRows).concat(unemployedRight),orig:unemployedOriginal},
 {domain:[-.373,1.311],ticks:binaryTicks,minor:binaryMinor,fmt:d3.format(".1f"),pts:fromRows(activeRows).concat(activeRight),orig:activeOriginal}
];

// ---- layout ----
const W=1344,H=960,panelW=397,panelH=193,stripH=47;
const lefts=[108,520,932],tops=[61,352,643];
const svg=d3.select("#chart").append("svg").attr("width",W).attr("height",H);
svg.append("rect").attr("width",W).attr("height",H).attr("fill","#fff");
const y=d3.scaleLinear().domain([-.83,10.83]).range([panelH,0]);

facets.forEach((f,i)=>{
  const col=i%3,row=Math.floor(i/3);
  const g=svg.append("g").attr("transform",`translate(${lefts[col]},${tops[row]})`);
  const x=d3.scaleLinear().domain(f.domain).range([0,panelW]);
  // grid
  g.selectAll(".vm").data(f.minor).join("line").attr("x1",x).attr("x2",x).attr("y1",0).attr("y2",panelH).attr("stroke","#dedede").attr("stroke-width",.9);
  g.selectAll(".hm").data(yMinor).join("line").attr("y1",y).attr("y2",y).attr("x1",0).attr("x2",panelW).attr("stroke","#dedede").attr("stroke-width",.9);
  g.selectAll(".vj").data(f.ticks).join("line").attr("x1",x).attr("x2",x).attr("y1",0).attr("y2",panelH).attr("stroke","#dedede").attr("stroke-width",1.3);
  g.selectAll(".hj").data(yTicks).join("line").attr("y1",y).attr("y2",y).attr("x1",0).attr("x2",panelW).attr("stroke","#dedede").attr("stroke-width",1.3);
  // original (unjittered) points
  g.selectAll(".orig").data(f.orig).join("circle").attr("cx",d=>x(d[0])).attr("cy",d=>y(d[1])).attr("r",3.4)
    .attr("fill","#000").attr("fill-opacity",d=>1-Math.pow(.88,d[2]));
  // jittered points
  g.selectAll(".jit").data(f.pts).join("circle").attr("cx",d=>x(d[0])).attr("cy",d=>y(d[1])).attr("r",5.7).attr("fill","#000");
  // border
  g.append("rect").attr("x",.5).attr("y",0).attr("width",panelW-1).attr("height",panelH-.3).attr("fill","none").attr("stroke","#b3b3b3").attr("stroke-width",2);
  // strip
  svg.append("rect").attr("x",lefts[col]).attr("y",tops[row]-stripH).attr("width",panelW).attr("height",stripH).attr("fill","#b3b3b3");
  svg.append("text").attr("x",lefts[col]+panelW/2).attr("y",tops[row]-stripH/2+1.5).attr("dy",".35em").attr("text-anchor","middle").attr("font-size",22.3).attr("fill","#fff").text(facetNames[i]);
  // x axis
  const ax=g.append("g").attr("transform",`translate(0,${panelH})`).call(d3.axisBottom(x).tickValues(f.ticks).tickFormat(f.fmt).tickSize(7).tickPadding(8.5));
  ax.select(".domain").remove();
  ax.selectAll("line").attr("stroke","#b3b3b3").attr("stroke-width",1.3);
  ax.selectAll("text").attr("font-size",22.3).attr("fill","#4d4d4d").attr("font-family","'Liberation Sans',Arial,sans-serif");
  if(col===0){
    const ay=g.append("g").call(d3.axisLeft(y).tickValues(yTicks).tickFormat(d3.format(".1f")).tickSize(7).tickPadding(8));
    ay.select(".domain").remove();
    ay.selectAll("line").attr("stroke","#b3b3b3").attr("stroke-width",1.3);
    ay.selectAll("text").attr("font-size",22.3).attr("dy","0.38em").attr("fill","#4d4d4d").attr("font-family","'Liberation Sans',Arial,sans-serif");
  }
});
svg.append("text").attr("x",718).attr("y",902).attr("text-anchor","middle").attr("font-size",28.3).attr("fill","#000").text("value");
svg.append("text").attr("transform","translate(37,448) rotate(-90)").attr("text-anchor","middle").attr("font-size",28.3).attr("fill","#000").text("life_satisfaction");
</script></body></html>
